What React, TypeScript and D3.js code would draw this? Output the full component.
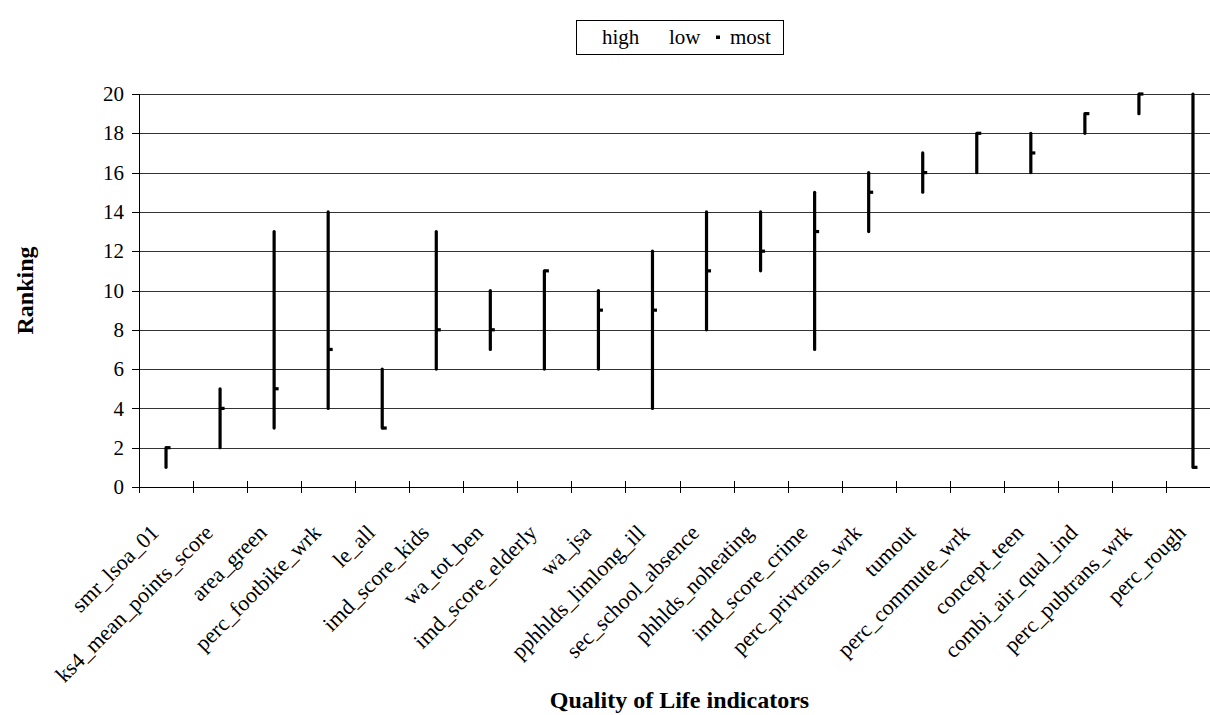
import React from 'react';
import * as d3 from 'd3';

const categories = [
  'smr_lsoa_01', 'ks4_mean_points_score', 'area_green', 'perc_footbike_wrk', 'le_all',
  'imd_score_kids', 'wa_tot_ben', 'imd_score_elderly', 'wa_jsa', 'pphhlds_limlong_ill',
  'sec_school_absence', 'phhlds_noheating', 'imd_score_crime', 'perc_privtrans_wrk', 'tumout',
  'perc_commute_wrk', 'concept_teen', 'combi_air_qual_ind', 'perc_pubtrans_wrk', 'perc_rough',
];
const highValues = [2, 5, 13, 14, 6, 13, 10, 11, 10, 12, 14, 14, 15, 16, 17, 18, 18, 19, 20, 20];
const lowValues = [1, 2, 3, 4, 3, 6, 7, 6, 6, 4, 8, 11, 7, 13, 15, 16, 16, 18, 19, 1];
const mostValues = [2, 4, 5, 7, 3, 8, 8, 11, 9, 9, 11, 12, 13, 15, 16, 18, 17, 19, 20, 1];
const yTicks = [0, 2, 4, 6, 8, 10, 12, 14, 16, 18, 20];
const legendLabels = ['high', 'low', 'most'];
const yTitle = 'Ranking';
const xTitle = 'Quality of Life indicators';

const W = 1210;
const H = 715;
const FONT = '"Liberation Serif", "Times New Roman", serif';

export default function App() {
  const x = d3.scaleBand<string>().domain(categories).range([139, 1220]).paddingInner(0).paddingOuter(0);
  const y = d3.scaleLinear().domain([0, 20]).range([487, 94]);
  const bw = x.bandwidth();
  const plotLeft = 139;
  const plotRight = 1220;
  const crisp = (v: number) => Math.round(v) + 0.5;

  return (
    <svg width={W} height={H} style={{ position: 'absolute', left: 0, top: 0, background: '#fff' }} fontFamily={FONT}>
      <rect x={0} y={0} width={W} height={H} fill="#fff" />
      {/* gridlines */}
      {yTicks.filter((t) => t > 0).map((t) => (
        <line key={'g' + t} x1={plotLeft} x2={plotRight} y1={crisp(y(t))} y2={crisp(y(t))} stroke="#333" strokeWidth={1} />
      ))}
      {/* y axis */}
      <line x1={crisp(plotLeft)} x2={crisp(plotLeft)} y1={y(20)} y2={y(0)} stroke="#000" strokeWidth={1} />
      {yTicks.map((t) => (
        <g key={'yt' + t}>
          <line x1={plotLeft - 7} x2={plotLeft} y1={crisp(y(t))} y2={crisp(y(t))} stroke="#000" strokeWidth={1} />
          <text x={124} y={y(t)} dy="0.34em" textAnchor="end" fontSize={21} fill="#000">{t}</text>
        </g>
      ))}
      {/* x axis */}
      <line x1={plotLeft} x2={plotRight} y1={crisp(y(0))} y2={crisp(y(0))} stroke="#000" strokeWidth={1} />
      {d3.range(categories.length + 1).map((i) => {
        const xv = crisp(plotLeft + i * bw);
        return <line key={'xt' + i} x1={xv} x2={xv} y1={y(0) - 6} y2={y(0) + 6} stroke="#000" strokeWidth={1} />;
      })}
      {categories.map((c) => {
        const cx = (x(c) as number) + bw / 2;
        return (
          <text key={'xl' + c} transform={`translate(${cx - 6},${534}) rotate(-45)`} textAnchor="end" fontSize={22} fill="#000">{c}</text>
        );
      })}
      {/* high-low lines and most markers */}
      {categories.map((c, i) => {
        const cx = (x(c) as number) + bw / 2;
        return (
          <g key={'b' + c}>
            <line x1={cx} x2={cx} y1={y(highValues[i])} y2={y(lowValues[i])} stroke="#000" strokeWidth={3.2} strokeLinecap="round" />
            <rect x={cx} y={y(mostValues[i]) - 1.6} width={4.5} height={3.2} fill="#000" />
          </g>
        );
      })}
      {/* titles */}
      <text transform={`translate(33,${(y(0) + y(20)) / 2}) rotate(-90)`} textAnchor="middle" fontSize={24} fontWeight="bold" fill="#000">{yTitle}</text>
      <text x={(plotLeft + plotRight) / 2} y={708} textAnchor="middle" fontSize={24} fontWeight="bold" fill="#000">{xTitle}</text>
      {/* legend */}
      <rect x={576.5} y={20.5} width={207} height={34} fill="#fff" stroke="#000" strokeWidth={1} />
      <text x={602} y={44} fontSize={21} fill="#000">{legendLabels[0]}</text>
      <text x={669} y={44} fontSize={21} fill="#000">{legendLabels[1]}</text>
      <rect x={716} y={35.5} width={4} height={3.5} fill="#000" />
      <text x={730} y={44} fontSize={21} fill="#000">{legendLabels[2]}</text>
    </svg>
  );
}
